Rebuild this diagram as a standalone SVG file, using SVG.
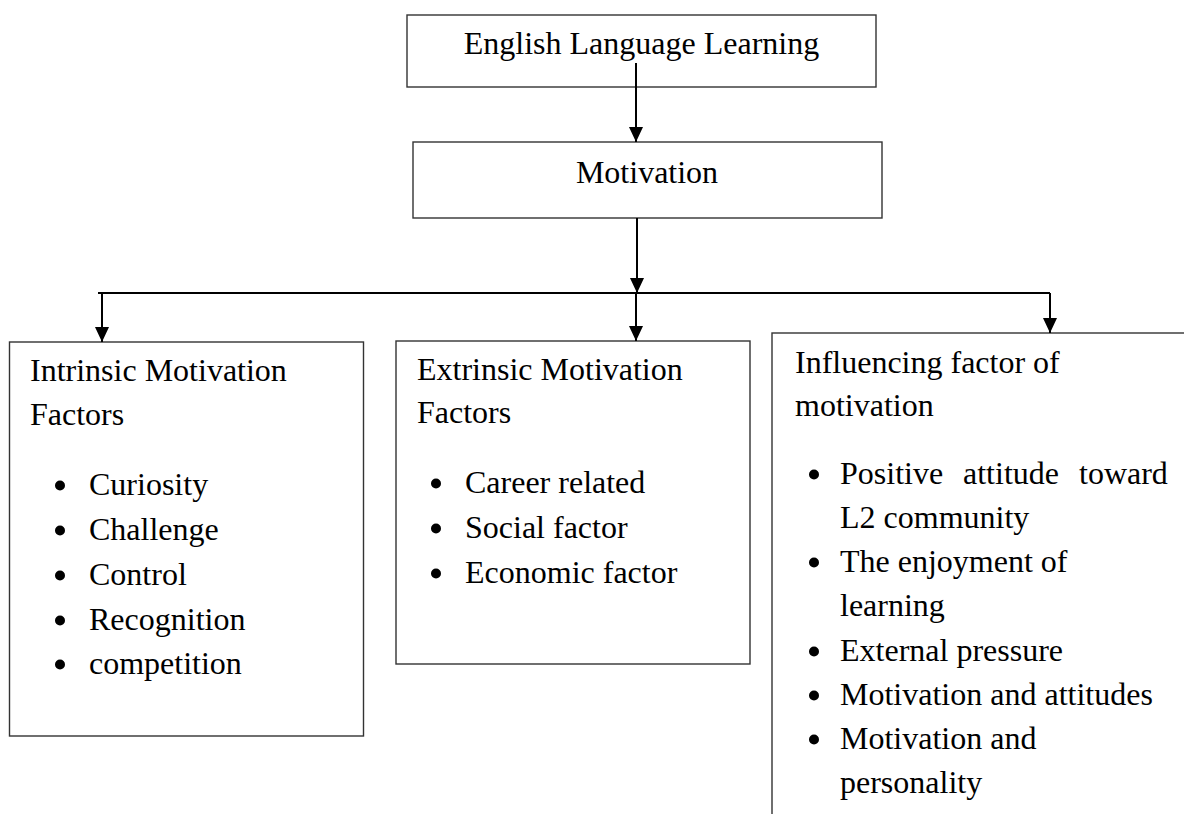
<svg xmlns="http://www.w3.org/2000/svg" width="1184" height="814" viewBox="0 0 1184 814">
<defs>
<marker id="ah" viewBox="0 0 15 14" refX="15" refY="7" markerWidth="15" markerHeight="14" markerUnits="userSpaceOnUse" orient="auto">
<path d="M0,0 L15,7 L0,14 Z" fill="#000"/>
</marker>
<style>
.box{fill:#fff;stroke:#333;stroke-width:1.4}
.t{font-family:"Liberation Serif","Times New Roman",serif;font-size:32px;fill:#000}
.c{text-anchor:middle}
.dot{fill:#000}
.ln{stroke:#000;stroke-width:2;fill:none}
</style>
</defs>
<rect width="1184" height="814" fill="#fff"/>
<g id="node-english">
<rect class="box" x="407" y="15" width="469" height="72"/>
<text class="t c" x="641.5" y="54">English Language Learning</text>
</g>
<g id="node-motivation">
<rect class="box" x="413" y="142" width="469" height="76"/>
<text class="t c" x="647" y="183">Motivation</text>
</g>
<g id="node-intrinsic">
<rect class="box" x="9.5" y="342" width="354" height="394"/>
<text class="t" x="30" y="381">Intrinsic Motivation</text>
<text class="t" x="30" y="425">Factors</text>
<circle class="dot" cx="60" cy="485.5" r="5"/><text class="t" x="89" y="495">Curiosity</text>
<circle class="dot" cx="60" cy="530.5" r="5"/><text class="t" x="89" y="540">Challenge</text>
<circle class="dot" cx="60" cy="575.5" r="5"/><text class="t" x="89" y="585">Control</text>
<circle class="dot" cx="60" cy="620.5" r="5"/><text class="t" x="89" y="630">Recognition</text>
<circle class="dot" cx="60" cy="664.5" r="5"/><text class="t" x="89" y="674">competition</text>
</g>
<g id="node-extrinsic">
<rect class="box" x="396" y="341" width="354" height="323"/>
<text class="t" x="417" y="380">Extrinsic Motivation</text>
<text class="t" x="417" y="423">Factors</text>
<circle class="dot" cx="436" cy="483.5" r="5"/><text class="t" x="465" y="493">Career related</text>
<circle class="dot" cx="436" cy="528.5" r="5"/><text class="t" x="465" y="538">Social factor</text>
<circle class="dot" cx="436" cy="573.5" r="5"/><text class="t" x="465" y="583">Economic factor</text>
</g>
<g id="node-influencing">
<rect class="box" x="772" y="333" width="440" height="520"/>
<text class="t" x="795" y="373">Influencing factor of</text>
<text class="t" x="795" y="416">motivation</text>
<circle class="dot" cx="814" cy="474.5" r="5"/><text class="t" y="484"><tspan x="840">Positive</tspan><tspan x="963">attitude</tspan><tspan x="1079">toward</tspan></text>
<text class="t" x="840" y="528">L2 community</text>
<circle class="dot" cx="814" cy="562.5" r="5"/><text class="t" x="840" y="572">The enjoyment of</text>
<text class="t" x="840" y="616">learning</text>
<circle class="dot" cx="814" cy="651.5" r="5"/><text class="t" x="840" y="661">External pressure</text>
<circle class="dot" cx="814" cy="695.5" r="5"/><text class="t" x="840" y="705">Motivation and attitudes</text>
<circle class="dot" cx="814" cy="739.5" r="5"/><text class="t" x="840" y="749">Motivation and</text>
<text class="t" x="840" y="793">personality</text>
</g>
<g id="connectors">
<line class="ln" x1="636" y1="63" x2="636" y2="142" marker-end="url(#ah)"/>
<line class="ln" x1="637" y1="218" x2="637" y2="293" marker-end="url(#ah)"/>
<line class="ln" x1="98" y1="293" x2="1050" y2="293"/>
<line class="ln" x1="102" y1="293" x2="102" y2="342" marker-end="url(#ah)"/>
<line class="ln" x1="636" y1="293" x2="636" y2="341" marker-end="url(#ah)"/>
<line class="ln" x1="1050" y1="293" x2="1050" y2="333" marker-end="url(#ah)"/>
</g>
</svg>
